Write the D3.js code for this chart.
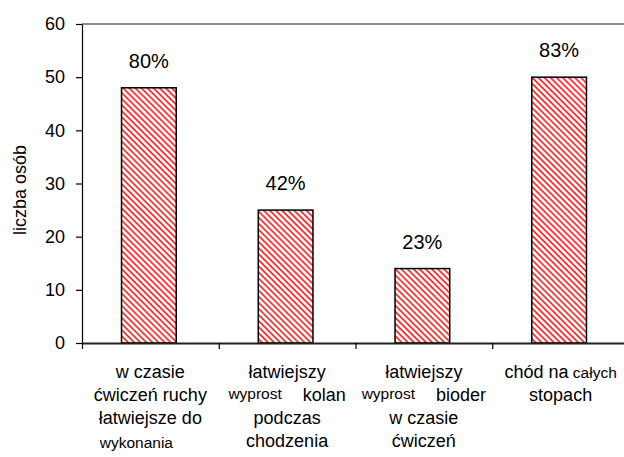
<!DOCTYPE html>
<html>
<head>
<meta charset="utf-8">
<script src="https://cdnjs.cloudflare.com/ajax/libs/d3/7.8.5/d3.min.js"></script>
<style>
  body { margin: 0; background: #fff; }
  svg { display: block; font-family: "Liberation Sans", Arial, sans-serif; }
</style>
</head>
<body>
<svg id="chart" width="624" height="457"></svg>
<script>
// data
var categories = ["c1", "c2", "c3", "c4"];
var values = [48, 25, 14, 50];
var percentLabels = ["80%", "42%", "23%", "83%"];
var yTicks = [0, 10, 20, 30, 40, 50, 60];
// category labels: lines of [text, small]
var categoryLines = [
    [[["w czasie", 0]], [["ćwiczeń ruchy", 0]], [["łatwiejsze do", 0]], [["wykonania", 1]]],
    [[["łatwiejszy", 0]], [["wyprost", 1], ["kolan", 0]], [["podczas", 0]], [["chodzenia", 0]]],
    [[["łatwiejszy", 0]], [["wyprost", 1], ["bioder", 0]], [["w czasie", 0]], [["ćwiczeń", 0]]],
    [[["chód na", 0], ["całych", 1]], [["stopach", 0]]]
];

var margin = {top: 24, left: 82, bottom: 114},
    width = 547,
    height = 457 - margin.top - margin.bottom;

var svg = d3.select("#chart");

var defs = svg.append("defs");
defs.append("pattern")
    .attr("id", "hatch")
    .attr("patternUnits", "userSpaceOnUse")
    .attr("width", 4.3)
    .attr("height", 4.3)
    .attr("patternTransform", "rotate(-45)")
    .append("line")
    .attr("x1", 1).attr("y1", 0)
    .attr("x2", 1).attr("y2", 4.3)
    .attr("stroke", "#ff2020")
    .attr("stroke-width", 1.7);

var g = svg.append("g")
    .attr("transform", "translate(" + margin.left + "," + margin.top + ")");

var xScale = d3.scaleBand().domain(categories).range([0, width]);
var xIdx = d3.scaleLinear().domain([0, categories.length]).range([0, width]);
var yScale = d3.scaleLinear().domain([0, 60]).range([height, 0]);

// top border of plot area
g.append("line")
    .attr("x1", 0).attr("x2", width)
    .attr("y1", yScale(60)).attr("y2", yScale(60))
    .attr("stroke", "#8c8c8c")
    .attr("stroke-width", 2);

// bars
var barW = xScale.bandwidth() * 0.4;
g.selectAll(".bar")
    .data(values)
    .enter()
    .append("rect")
    .attr("class", "bar")
    .attr("x", function(d, i) { return xScale(categories[i]) + (xScale.bandwidth() - barW) / 2 - 1.5; })
    .attr("y", function(d) { return yScale(d); })
    .attr("width", barW)
    .attr("height", function(d) { return height - yScale(d); })
    .attr("fill", "url(#hatch)")
    .attr("stroke", "#000")
    .attr("stroke-width", 1.5);

// value labels
g.selectAll(".pct")
    .data(values)
    .enter()
    .append("text")
    .attr("class", "pct")
    .attr("x", function(d, i) { return xScale(categories[i]) + xScale.bandwidth() / 2 - 1.5; })
    .attr("y", function(d) { return yScale(d) - 20; })
    .attr("text-anchor", "middle")
    .style("font-size", "20px")
    .text(function(d, i) { return percentLabels[i]; });

// y axis
var yAxis = g.append("g")
    .call(d3.axisLeft(yScale)
        .tickValues(yTicks)
        .tickSize(6)
        .tickSizeOuter(0)
        .tickPadding(11));
yAxis.selectAll("text").style("font-size", "18px").attr("fill", "#000");
yAxis.selectAll("line, path").attr("stroke", "#000").attr("stroke-width", 1.2);

// x axis
var xAxis = g.append("g")
    .attr("transform", "translate(0," + height + ")")
    .call(d3.axisBottom(xIdx)
        .tickValues(d3.range(categories.length + 1))
        .tickSize(6)
        .tickSizeOuter(0)
        .tickFormat(""));
xAxis.selectAll("line").attr("stroke", "#000").attr("stroke-width", 1.2);
xAxis.select("path").attr("stroke", "#222").attr("stroke-width", 2);

// category labels
categoryLines.forEach(function(lines, i) {
    var cx = xScale(categories[i]) + xScale.bandwidth() / 2;
    lines.forEach(function(line, j) {
        var lone = line.length === 1 && line[0][1] === 1;
        var t = g.append("text")
            .attr("x", cx + (lone ? -14 : 0))
            .attr("y", height + 35 + j * 23 + (lone ? 1 : 0))
            .attr("text-anchor", "middle");
        line.forEach(function(seg, k) {
            var ts = t.append("tspan")
                .style("font-size", seg[1] ? "15.5px" : "18px")
                .text((k > 0 ? " " : "") + seg[0]);
            if (k > 0 && line[0][1] === 1) ts.attr("dx", 16);
            if (seg[1] && line.length > 1 && k === 0) ts.attr("dy", -2);
            if (k > 0 && line[0][1] === 1) ts.attr("dy", 2);
        });
    });
});

// y axis title
svg.append("text")
    .attr("transform", "translate(26,190) rotate(-90)")
    .attr("text-anchor", "middle")
    .style("font-size", "18px")
    .text("liczba osób");
</script>
</body>
</html>
